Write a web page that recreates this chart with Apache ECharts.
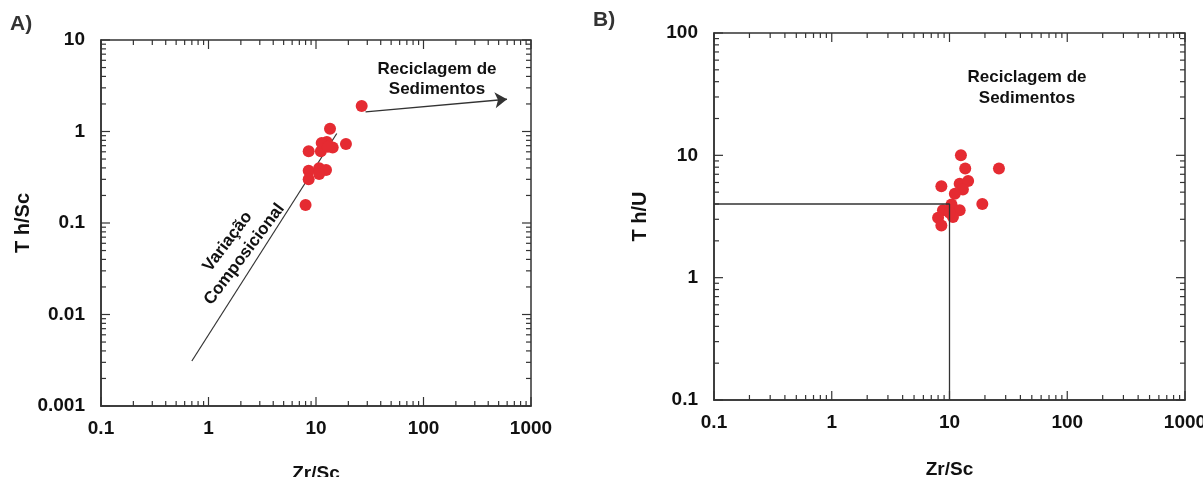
<!DOCTYPE html>
<html>
<head>
<meta charset="utf-8">
<script src="https://cdn.jsdelivr.net/npm/echarts@6/dist/echarts.min.js"></script>
<style>
  html, body { margin: 0; padding: 0; background: #fff; }
  #chart { width: 1203px; height: 477px; }
</style>
</head>
<body>
<div id="chart"></div>
<script>
// painel A: Th/Sc x Zr/Sc
const zrScA = [26.6, 13.5, 12.6, 19.0, 14.3, 8.55, 11.1, 11.3, 12.9, 8.55, 10.7, 12.4, 10.7, 8.55, 8.0]
const thScA = [1.9, 1.07, 0.77, 0.73, 0.67, 0.61, 0.61, 0.75, 0.68, 0.373, 0.396, 0.38, 0.343, 0.30, 0.157]
// painel B: Th/U x Zr/Sc
const zrScB = [12.5, 13.6, 26.3, 8.53, 12.2, 14.4, 13.0, 11.1, 19.0, 10.4, 8.8, 12.2, 8.0, 10.7, 8.53, 10.0]
const thUB = [10.0, 7.8, 7.8, 5.6, 5.86, 6.17, 5.25, 4.86, 4.0, 3.97, 3.55, 3.55, 3.09, 3.13, 2.67, 3.4]
// linhas de referencia
const trendA = [[0.7, 0.0031], [15.6, 0.95]]
const arrowA = [[28.9, 1.64], [598, 2.25]]
const limitB = [[0.1, 4], [10, 4], [10, 0.1]]
// rotulos dos eixos
const xLabels = ['0.1', '1', '10', '100', '1000']
const yLabelsA = ['0.001', '0.01', '0.1', '1', '10']
const yLabelsB = ['0.1', '1', '10', '100']

const FONT = '"Liberation Sans", Arial, sans-serif'
const INK = '#333'
const RED = '#e52b32'

function pick (labels) {
  return function (v) {
    const l = labels.find(s => Math.abs(Math.log10(+s) - Math.log10(v)) < 1e-6)
    return l || ''
  }
}

// ticks de escala log (1..9 x 10^k)
function logTicks (min, max) {
  const out = []
  for (let k = Math.round(Math.log10(min)); k < Math.round(Math.log10(max)); k++) {
    for (let d = 1; d <= 9; d++) out.push(parseFloat((d * Math.pow(10, k)).toPrecision(6)))
  }
  out.push(max)
  return out
}

function isMajor (v) {
  return Math.abs(Math.log10(v) - Math.round(Math.log10(v))) < 1e-6
}

function tickSeries (grid, isX, xMin, xMax, yMin, yMax) {
  const vals = isX ? logTicks(xMin, xMax) : logTicks(yMin, yMax)
  return {
    type: 'custom',
    xAxisIndex: grid,
    yAxisIndex: grid,
    silent: true,
    clip: false,
    data: vals.map(v => isX ? [v, yMin] : [xMin, v]),
    renderItem: function (params, api) {
      const v = api.value(isX ? 0 : 1)
      const len = isMajor(v) ? 9 : 5
      const style = { stroke: INK, lineWidth: 1.2 }
      let a, b
      if (isX) {
        a = api.coord([v, yMin]); b = api.coord([v, yMax])
        return { type: 'group', children: [
          { type: 'line', shape: { x1: a[0], y1: a[1], x2: a[0], y2: a[1] - len }, style: style },
          { type: 'line', shape: { x1: b[0], y1: b[1], x2: b[0], y2: b[1] + len }, style: style }
        ] }
      }
      a = api.coord([xMin, v]); b = api.coord([xMax, v])
      return { type: 'group', children: [
        { type: 'line', shape: { x1: a[0], y1: a[1], x2: a[0] + len, y2: a[1] }, style: style },
        { type: 'line', shape: { x1: b[0], y1: b[1], x2: b[0] - len, y2: b[1] }, style: style }
      ] }
    }
  }
}

function xAxisOf (grid, gap) {
  return {
    type: 'log', logBase: 10, gridIndex: grid, min: 0.1, max: 1000, interval: 1,
    axisLine: { show: true, lineStyle: { color: INK, width: 1.5 } },
    axisTick: { show: false },
    splitLine: { show: false },
    axisLabel: { color: '#111', fontSize: 19, fontWeight: 'bold', fontFamily: FONT, margin: 13, formatter: pick(xLabels) },
    name: 'Zr/Sc', nameLocation: 'middle', nameGap: gap,
    nameTextStyle: { color: '#111', fontSize: 19, fontWeight: 'bold', fontFamily: FONT }
  }
}

function yAxisOf (grid, min, max, labels, title, gap) {
  return {
    type: 'log', logBase: 10, gridIndex: grid, min: min, max: max, interval: 1,
    axisLine: { show: true, lineStyle: { color: INK, width: 1.5 } },
    axisTick: { show: false },
    splitLine: { show: false },
    axisLabel: { color: '#111', fontSize: 19, fontWeight: 'bold', fontFamily: FONT, margin: 16, formatter: pick(labels) },
    name: title, nameLocation: 'middle', nameRotate: 90, nameGap: gap,
    nameTextStyle: { color: '#111', fontSize: 20, fontWeight: 'bold', fontFamily: FONT }
  }
}

const chart = echarts.init(document.getElementById('chart'))
chart.setOption({
  backgroundColor: '#fff',
  animation: false,
  grid: [
    { left: 101, top: 40, width: 430, height: 366, show: true, borderColor: INK, borderWidth: 1.5, outerBoundsMode: 'none' },
    { left: 714, top: 33, width: 471, height: 367, show: true, borderColor: INK, borderWidth: 1.5, outerBoundsMode: 'none' }
  ],
  xAxis: [xAxisOf(0, 58), xAxisOf(1, 60)],
  yAxis: [
    yAxisOf(0, 0.001, 10, yLabelsA, 'T h/Sc', 67),
    yAxisOf(1, 0.1, 100, yLabelsB, 'T h/U', 64)
  ],
  graphic: [
    { type: 'text', left: 10, top: 14, style: { text: 'A)', fill: '#333', font: 'bold 21px ' + FONT } },
    { type: 'text', left: 593, top: 10, style: { text: 'B)', fill: '#333', font: 'bold 21px ' + FONT } },
    { type: 'text', x: 437, y: 79, style: { text: 'Reciclagem de\nSedimentos', fill: '#111', font: 'bold 17px ' + FONT, align: 'center', verticalAlign: 'middle', lineHeight: 20 } },
    { type: 'text', x: 1027, y: 88, style: { text: 'Reciclagem de\nSedimentos', fill: '#111', font: 'bold 17px ' + FONT, align: 'center', verticalAlign: 'middle', lineHeight: 21 } },
    { type: 'text', x: 236, y: 248, rotation: 53 * Math.PI / 180, style: { text: 'Variação\nComposicional', fill: '#111', font: 'bold 17px ' + FONT, align: 'center', verticalAlign: 'middle', lineHeight: 21 } }
  ],
  series: [
    tickSeries(0, true, 0.1, 1000, 0.001, 10),
    tickSeries(0, false, 0.1, 1000, 0.001, 10),
    tickSeries(1, true, 0.1, 1000, 0.1, 100),
    tickSeries(1, false, 0.1, 1000, 0.1, 100),
    {
      type: 'lines', coordinateSystem: 'cartesian2d', xAxisIndex: 0, yAxisIndex: 0, silent: true,
      data: [{ coords: trendA }],
      lineStyle: { color: INK, width: 1.2, opacity: 1 }
    },
    {
      type: 'lines', coordinateSystem: 'cartesian2d', xAxisIndex: 0, yAxisIndex: 0, silent: true,
      symbol: ['none', 'arrow'], symbolSize: [6, 12],
      data: [{ coords: arrowA }],
      lineStyle: { color: INK, width: 1.4, opacity: 1 }
    },
    {
      type: 'line', xAxisIndex: 1, yAxisIndex: 1, silent: true, showSymbol: false,
      data: limitB,
      lineStyle: { color: INK, width: 1.3 }
    },
    {
      type: 'scatter', xAxisIndex: 0, yAxisIndex: 0, symbolSize: 12,
      data: zrScA.map((x, i) => [x, thScA[i]]),
      itemStyle: { color: RED, opacity: 1 }
    },
    {
      type: 'scatter', xAxisIndex: 1, yAxisIndex: 1, symbolSize: 12,
      data: zrScB.map((x, i) => [x, thUB[i]]),
      itemStyle: { color: RED, opacity: 1 }
    }
  ]
})
</script>
</body>
</html>
